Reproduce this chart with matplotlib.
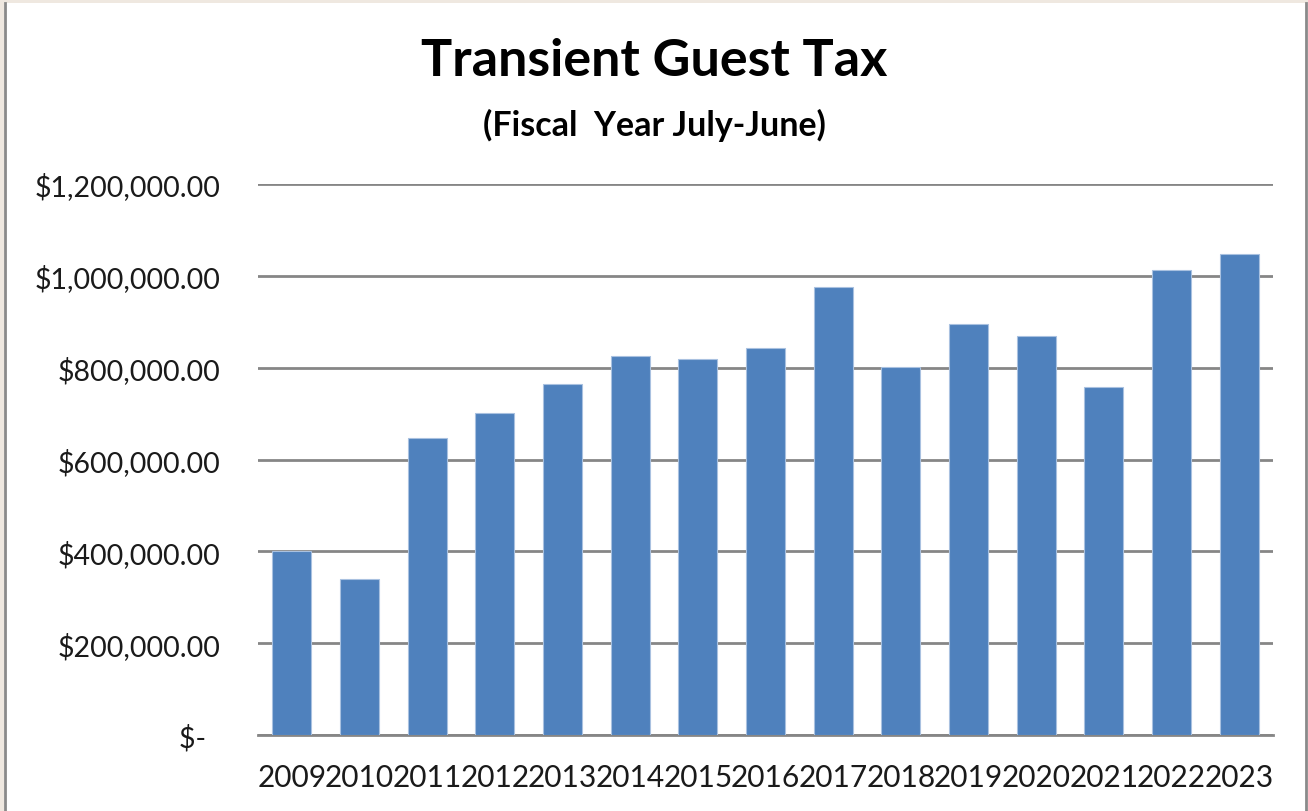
import matplotlib
matplotlib.use('Agg')
import matplotlib.pyplot as plt
from matplotlib.ticker import FuncFormatter
from matplotlib.patches import Rectangle
from matplotlib.lines import Line2D

plt.rcParams['font.family'] = ['Lato', 'DejaVu Sans']

years = ['2009', '2010', '2011', '2012', '2013', '2014', '2015', '2016',
         '2017', '2018', '2019', '2020', '2021', '2022', '2023']
tax = [400000, 339000, 647000, 701000, 765000, 826000, 819000, 842000,
       976000, 801000, 896000, 868000, 758000, 1012000, 1047000]
y_ticks = [0, 200000, 400000, 600000, 800000, 1000000, 1200000]

bar_color = '#4F81BD'
grid_color = '#868686'


def money(v, pos):
    if v == 0:
        return '$-  '
    return '${:,.2f}'.format(v)


fig = plt.figure(figsize=(13.08, 8.12), dpi=100, facecolor='white')
ax = fig.add_axes([258 / 1308, 76 / 812, (1273 - 258) / 1308, (736 - 185) / 812])

x = range(len(years))
ax.bar(x, tax, width=0.58, color=bar_color, edgecolor='#A9C1E0',
       linewidth=0.8, zorder=3)

ax.set_ylim(0, 1200000)
ax.set_xlim(-0.5, len(years) - 0.5)
ax.set_yticks(y_ticks)
ax.yaxis.set_major_formatter(FuncFormatter(money))
ax.set_xticks(list(x))
ax.set_xticklabels(years)
ax.grid(axis='y', color=grid_color, linewidth=2, zorder=0)
ax.set_axisbelow(True)

for side in ['top', 'right', 'left']:
    ax.spines[side].set_visible(False)
ax.spines['bottom'].set_color(grid_color)
ax.spines['bottom'].set_linewidth(2)
ax.tick_params(axis='both', length=0, colors='#1a1a1a')
ax.tick_params(axis='y', pad=27, labelsize=20.5)
ax.tick_params(axis='x', pad=20, labelsize=21.5)

fig.text(0.5, 1 - 62 / 812, 'Transient Guest Tax', ha='center', va='center',
         fontsize=37.5, fontweight='bold', color='black')
fig.text(0.5, 1 - 125 / 812, '(Fiscal  Year July-June)', ha='center', va='center',
         fontsize=24.5, fontweight='bold', color='black')

# window frame around the chart
fig.patches.append(Rectangle((0, 1 - 4 / 812), 1, 4 / 812, transform=fig.transFigure,
                             facecolor='#EFE8E0', edgecolor='none'))
fig.patches.append(Rectangle((0, 0), 4 / 1308, 1, transform=fig.transFigure,
                             facecolor='#EFE8E0', edgecolor='none'))
fig.lines.append(Line2D([5 / 1308, 5 / 1308], [0, 1 - 4 / 812], transform=fig.transFigure,
                        color='#8a8a8a', linewidth=2))
fig.lines.append(Line2D([1306 / 1308, 1306 / 1308], [0, 1 - 4 / 812], transform=fig.transFigure,
                        color='#8a8a8a', linewidth=2))

fig.savefig('out.png', dpi=100, facecolor='white')
